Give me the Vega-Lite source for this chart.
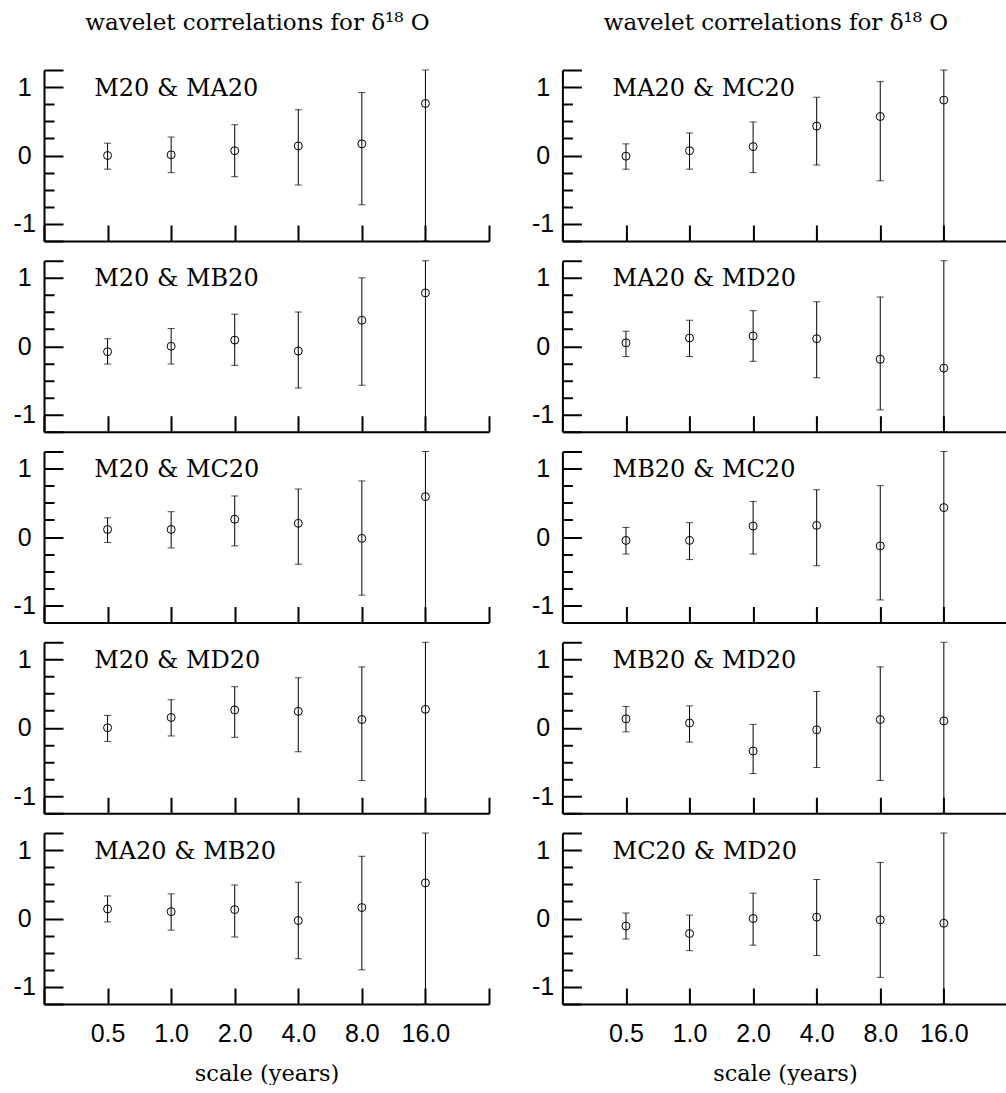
{
  "$schema": "https://vega.github.io/schema/vega-lite/v6.json",
  "padding": {"left": 13, "top": 12, "right": 0, "bottom": 0},
  "background": "white",
  "data": {"values": [
    {"pair": "M20 & MA20", "scale": 0.5, "r": 0.00, "lo": -0.20, "hi": 0.18},
    {"pair": "M20 & MA20", "scale": 1, "r": 0.01, "lo": -0.25, "hi": 0.27},
    {"pair": "M20 & MA20", "scale": 2, "r": 0.07, "lo": -0.31, "hi": 0.45},
    {"pair": "M20 & MA20", "scale": 4, "r": 0.14, "lo": -0.43, "hi": 0.67},
    {"pair": "M20 & MA20", "scale": 8, "r": 0.17, "lo": -0.72, "hi": 0.92},
    {"pair": "M20 & MA20", "scale": 16, "r": 0.76, "lo": -1.25, "hi": 1.25},
    {"pair": "MA20 & MC20", "scale": 0.5, "r": -0.01, "lo": -0.20, "hi": 0.17},
    {"pair": "MA20 & MC20", "scale": 1, "r": 0.07, "lo": -0.20, "hi": 0.33},
    {"pair": "MA20 & MC20", "scale": 2, "r": 0.13, "lo": -0.25, "hi": 0.49},
    {"pair": "MA20 & MC20", "scale": 4, "r": 0.43, "lo": -0.14, "hi": 0.85},
    {"pair": "MA20 & MC20", "scale": 8, "r": 0.57, "lo": -0.37, "hi": 1.08},
    {"pair": "MA20 & MC20", "scale": 16, "r": 0.81, "lo": -1.25, "hi": 1.25},
    {"pair": "M20 & MB20", "scale": 0.5, "r": -0.08, "lo": -0.26, "hi": 0.11},
    {"pair": "M20 & MB20", "scale": 1, "r": 0.00, "lo": -0.26, "hi": 0.26},
    {"pair": "M20 & MB20", "scale": 2, "r": 0.09, "lo": -0.28, "hi": 0.47},
    {"pair": "M20 & MB20", "scale": 4, "r": -0.07, "lo": -0.61, "hi": 0.50},
    {"pair": "M20 & MB20", "scale": 8, "r": 0.38, "lo": -0.57, "hi": 1.00},
    {"pair": "M20 & MB20", "scale": 16, "r": 0.78, "lo": -1.25, "hi": 1.25},
    {"pair": "MA20 & MD20", "scale": 0.5, "r": 0.05, "lo": -0.15, "hi": 0.22},
    {"pair": "MA20 & MD20", "scale": 1, "r": 0.12, "lo": -0.15, "hi": 0.38},
    {"pair": "MA20 & MD20", "scale": 2, "r": 0.15, "lo": -0.22, "hi": 0.52},
    {"pair": "MA20 & MD20", "scale": 4, "r": 0.11, "lo": -0.46, "hi": 0.65},
    {"pair": "MA20 & MD20", "scale": 8, "r": -0.19, "lo": -0.93, "hi": 0.72},
    {"pair": "MA20 & MD20", "scale": 16, "r": -0.32, "lo": -1.25, "hi": 1.25},
    {"pair": "M20 & MC20", "scale": 0.5, "r": 0.11, "lo": -0.08, "hi": 0.28},
    {"pair": "M20 & MC20", "scale": 1, "r": 0.11, "lo": -0.16, "hi": 0.37},
    {"pair": "M20 & MC20", "scale": 2, "r": 0.26, "lo": -0.13, "hi": 0.60},
    {"pair": "M20 & MC20", "scale": 4, "r": 0.20, "lo": -0.40, "hi": 0.70},
    {"pair": "M20 & MC20", "scale": 8, "r": -0.02, "lo": -0.85, "hi": 0.82},
    {"pair": "M20 & MC20", "scale": 16, "r": 0.59, "lo": -1.25, "hi": 1.25},
    {"pair": "MB20 & MC20", "scale": 0.5, "r": -0.05, "lo": -0.25, "hi": 0.14},
    {"pair": "MB20 & MC20", "scale": 1, "r": -0.05, "lo": -0.33, "hi": 0.21},
    {"pair": "MB20 & MC20", "scale": 2, "r": 0.16, "lo": -0.25, "hi": 0.52},
    {"pair": "MB20 & MC20", "scale": 4, "r": 0.17, "lo": -0.42, "hi": 0.69},
    {"pair": "MB20 & MC20", "scale": 8, "r": -0.13, "lo": -0.92, "hi": 0.75},
    {"pair": "MB20 & MC20", "scale": 16, "r": 0.43, "lo": -1.25, "hi": 1.25},
    {"pair": "M20 & MD20", "scale": 0.5, "r": 0.00, "lo": -0.20, "hi": 0.18},
    {"pair": "M20 & MD20", "scale": 1, "r": 0.15, "lo": -0.12, "hi": 0.41},
    {"pair": "M20 & MD20", "scale": 2, "r": 0.26, "lo": -0.14, "hi": 0.60},
    {"pair": "M20 & MD20", "scale": 4, "r": 0.24, "lo": -0.35, "hi": 0.73},
    {"pair": "M20 & MD20", "scale": 8, "r": 0.12, "lo": -0.77, "hi": 0.89},
    {"pair": "M20 & MD20", "scale": 16, "r": 0.27, "lo": -1.25, "hi": 1.25},
    {"pair": "MB20 & MD20", "scale": 0.5, "r": 0.13, "lo": -0.06, "hi": 0.31},
    {"pair": "MB20 & MD20", "scale": 1, "r": 0.07, "lo": -0.21, "hi": 0.32},
    {"pair": "MB20 & MD20", "scale": 2, "r": -0.34, "lo": -0.67, "hi": 0.05},
    {"pair": "MB20 & MD20", "scale": 4, "r": -0.03, "lo": -0.58, "hi": 0.53},
    {"pair": "MB20 & MD20", "scale": 8, "r": 0.12, "lo": -0.77, "hi": 0.89},
    {"pair": "MB20 & MD20", "scale": 16, "r": 0.10, "lo": -1.25, "hi": 1.25},
    {"pair": "MA20 & MB20", "scale": 0.5, "r": 0.14, "lo": -0.05, "hi": 0.33},
    {"pair": "MA20 & MB20", "scale": 1, "r": 0.10, "lo": -0.17, "hi": 0.36},
    {"pair": "MA20 & MB20", "scale": 2, "r": 0.13, "lo": -0.27, "hi": 0.49},
    {"pair": "MA20 & MB20", "scale": 4, "r": -0.03, "lo": -0.59, "hi": 0.53},
    {"pair": "MA20 & MB20", "scale": 8, "r": 0.16, "lo": -0.75, "hi": 0.91},
    {"pair": "MA20 & MB20", "scale": 16, "r": 0.52, "lo": -1.25, "hi": 1.25},
    {"pair": "MC20 & MD20", "scale": 0.5, "r": -0.11, "lo": -0.30, "hi": 0.08},
    {"pair": "MC20 & MD20", "scale": 1, "r": -0.22, "lo": -0.47, "hi": 0.05},
    {"pair": "MC20 & MD20", "scale": 2, "r": 0.00, "lo": -0.39, "hi": 0.37},
    {"pair": "MC20 & MD20", "scale": 4, "r": 0.02, "lo": -0.54, "hi": 0.57},
    {"pair": "MC20 & MD20", "scale": 8, "r": -0.02, "lo": -0.86, "hi": 0.82},
    {"pair": "MC20 & MD20", "scale": 16, "r": -0.07, "lo": -1.25, "hi": 1.25}
  ]},
  "columns": 2,
  "bounds": "flush",
  "spacing": {"row": 19.75, "column": 73.4},
  "concat": [
    {
      "title": {"text": "wavelet correlations for δ¹⁸ O"},
      "width": 445, "height": 171,
      "transform": [{"filter": "datum.pair == 'M20 & MA20'"}],
      "layer": [
        {"mark": {"type": "errorbar", "color": "black", "thickness": 1, "ticks": {"size": 7}},
         "encoding": {
           "x": {"field": "scale", "type": "quantitative", "scale": {"type": "log", "base": 2, "domain": [0.25, 32], "nice": false}, "axis": {"values": [0.25, 0.5, 1, 2, 4, 8, 16, 32], "tickSize": -16, "labels": false, "title": null}},
           "y": {"field": "lo", "type": "quantitative", "scale": {"domain": [-1.25, 1.25], "nice": false, "zero": false}, "axis": {"orient": "left", "values": [-1, 0, 1], "tickSize": -19, "labelExpr": "datum.value == 0 ? '0' : datum.value > 0 ? '1' : '-1'", "title": null}},
           "y2": {"field": "hi"}}},
        {"mark": {"type": "point", "shape": "circle", "filled": false, "size": 64, "color": "black", "strokeWidth": 1, "opacity": 1},
         "encoding": {
           "x": {"field": "scale", "type": "quantitative"},
           "y": {"field": "r", "type": "quantitative", "axis": {"orient": "left", "values": [-0.75, -0.5, -0.25, 0.25, 0.5, 0.75], "tickSize": -10, "labels": false, "domain": false, "title": null}}}},
        {"transform": [{"filter": "datum.scale == 0.5"}],
         "mark": {"type": "text", "font": "DejaVu Serif", "fontSize": 24, "align": "left", "baseline": "alphabetic", "color": "black"},
         "encoding": {
           "x": {"datum": 0.432, "type": "quantitative"},
           "y": {"datum": 0.874, "type": "quantitative", "axis": {"orient": "left", "values": [-1.25, 1.25], "tickSize": -19, "labels": false, "domain": false, "title": null}},
           "text": {"field": "pair"}}}
      ],
      "resolve": {"axis": {"y": "independent"}}
    },
    {
      "title": {"text": "wavelet correlations for δ¹⁸ O"},
      "width": 445, "height": 171,
      "transform": [{"filter": "datum.pair == 'MA20 & MC20'"}],
      "layer": [
        {"mark": {"type": "errorbar", "color": "black", "thickness": 1, "ticks": {"size": 7}},
         "encoding": {
           "x": {"field": "scale", "type": "quantitative", "scale": {"type": "log", "base": 2, "domain": [0.25, 32], "nice": false}, "axis": {"values": [0.25, 0.5, 1, 2, 4, 8, 16, 32], "tickSize": -16, "labels": false, "title": null}},
           "y": {"field": "lo", "type": "quantitative", "scale": {"domain": [-1.25, 1.25], "nice": false, "zero": false}, "axis": {"orient": "left", "values": [-1, 0, 1], "tickSize": -19, "labelExpr": "datum.value == 0 ? '0' : datum.value > 0 ? '1' : '-1'", "title": null}},
           "y2": {"field": "hi"}}},
        {"mark": {"type": "point", "shape": "circle", "filled": false, "size": 64, "color": "black", "strokeWidth": 1, "opacity": 1},
         "encoding": {
           "x": {"field": "scale", "type": "quantitative"},
           "y": {"field": "r", "type": "quantitative", "axis": {"orient": "left", "values": [-0.75, -0.5, -0.25, 0.25, 0.5, 0.75], "tickSize": -10, "labels": false, "domain": false, "title": null}}}},
        {"transform": [{"filter": "datum.scale == 0.5"}],
         "mark": {"type": "text", "font": "DejaVu Serif", "fontSize": 24, "align": "left", "baseline": "alphabetic", "color": "black"},
         "encoding": {
           "x": {"datum": 0.432, "type": "quantitative"},
           "y": {"datum": 0.874, "type": "quantitative", "axis": {"orient": "left", "values": [-1.25, 1.25], "tickSize": -19, "labels": false, "domain": false, "title": null}},
           "text": {"field": "pair"}}}
      ],
      "resolve": {"axis": {"y": "independent"}}
    },
    {
      "width": 445, "height": 171,
      "transform": [{"filter": "datum.pair == 'M20 & MB20'"}],
      "layer": [
        {"mark": {"type": "errorbar", "color": "black", "thickness": 1, "ticks": {"size": 7}},
         "encoding": {
           "x": {"field": "scale", "type": "quantitative", "scale": {"type": "log", "base": 2, "domain": [0.25, 32], "nice": false}, "axis": {"values": [0.25, 0.5, 1, 2, 4, 8, 16, 32], "tickSize": -16, "labels": false, "title": null}},
           "y": {"field": "lo", "type": "quantitative", "scale": {"domain": [-1.25, 1.25], "nice": false, "zero": false}, "axis": {"orient": "left", "values": [-1, 0, 1], "tickSize": -19, "labelExpr": "datum.value == 0 ? '0' : datum.value > 0 ? '1' : '-1'", "title": null}},
           "y2": {"field": "hi"}}},
        {"mark": {"type": "point", "shape": "circle", "filled": false, "size": 64, "color": "black", "strokeWidth": 1, "opacity": 1},
         "encoding": {
           "x": {"field": "scale", "type": "quantitative"},
           "y": {"field": "r", "type": "quantitative", "axis": {"orient": "left", "values": [-0.75, -0.5, -0.25, 0.25, 0.5, 0.75], "tickSize": -10, "labels": false, "domain": false, "title": null}}}},
        {"transform": [{"filter": "datum.scale == 0.5"}],
         "mark": {"type": "text", "font": "DejaVu Serif", "fontSize": 24, "align": "left", "baseline": "alphabetic", "color": "black"},
         "encoding": {
           "x": {"datum": 0.432, "type": "quantitative"},
           "y": {"datum": 0.874, "type": "quantitative", "axis": {"orient": "left", "values": [-1.25, 1.25], "tickSize": -19, "labels": false, "domain": false, "title": null}},
           "text": {"field": "pair"}}}
      ],
      "resolve": {"axis": {"y": "independent"}}
    },
    {
      "width": 445, "height": 171,
      "transform": [{"filter": "datum.pair == 'MA20 & MD20'"}],
      "layer": [
        {"mark": {"type": "errorbar", "color": "black", "thickness": 1, "ticks": {"size": 7}},
         "encoding": {
           "x": {"field": "scale", "type": "quantitative", "scale": {"type": "log", "base": 2, "domain": [0.25, 32], "nice": false}, "axis": {"values": [0.25, 0.5, 1, 2, 4, 8, 16, 32], "tickSize": -16, "labels": false, "title": null}},
           "y": {"field": "lo", "type": "quantitative", "scale": {"domain": [-1.25, 1.25], "nice": false, "zero": false}, "axis": {"orient": "left", "values": [-1, 0, 1], "tickSize": -19, "labelExpr": "datum.value == 0 ? '0' : datum.value > 0 ? '1' : '-1'", "title": null}},
           "y2": {"field": "hi"}}},
        {"mark": {"type": "point", "shape": "circle", "filled": false, "size": 64, "color": "black", "strokeWidth": 1, "opacity": 1},
         "encoding": {
           "x": {"field": "scale", "type": "quantitative"},
           "y": {"field": "r", "type": "quantitative", "axis": {"orient": "left", "values": [-0.75, -0.5, -0.25, 0.25, 0.5, 0.75], "tickSize": -10, "labels": false, "domain": false, "title": null}}}},
        {"transform": [{"filter": "datum.scale == 0.5"}],
         "mark": {"type": "text", "font": "DejaVu Serif", "fontSize": 24, "align": "left", "baseline": "alphabetic", "color": "black"},
         "encoding": {
           "x": {"datum": 0.432, "type": "quantitative"},
           "y": {"datum": 0.874, "type": "quantitative", "axis": {"orient": "left", "values": [-1.25, 1.25], "tickSize": -19, "labels": false, "domain": false, "title": null}},
           "text": {"field": "pair"}}}
      ],
      "resolve": {"axis": {"y": "independent"}}
    },
    {
      "width": 445, "height": 171,
      "transform": [{"filter": "datum.pair == 'M20 & MC20'"}],
      "layer": [
        {"mark": {"type": "errorbar", "color": "black", "thickness": 1, "ticks": {"size": 7}},
         "encoding": {
           "x": {"field": "scale", "type": "quantitative", "scale": {"type": "log", "base": 2, "domain": [0.25, 32], "nice": false}, "axis": {"values": [0.25, 0.5, 1, 2, 4, 8, 16, 32], "tickSize": -16, "labels": false, "title": null}},
           "y": {"field": "lo", "type": "quantitative", "scale": {"domain": [-1.25, 1.25], "nice": false, "zero": false}, "axis": {"orient": "left", "values": [-1, 0, 1], "tickSize": -19, "labelExpr": "datum.value == 0 ? '0' : datum.value > 0 ? '1' : '-1'", "title": null}},
           "y2": {"field": "hi"}}},
        {"mark": {"type": "point", "shape": "circle", "filled": false, "size": 64, "color": "black", "strokeWidth": 1, "opacity": 1},
         "encoding": {
           "x": {"field": "scale", "type": "quantitative"},
           "y": {"field": "r", "type": "quantitative", "axis": {"orient": "left", "values": [-0.75, -0.5, -0.25, 0.25, 0.5, 0.75], "tickSize": -10, "labels": false, "domain": false, "title": null}}}},
        {"transform": [{"filter": "datum.scale == 0.5"}],
         "mark": {"type": "text", "font": "DejaVu Serif", "fontSize": 24, "align": "left", "baseline": "alphabetic", "color": "black"},
         "encoding": {
           "x": {"datum": 0.432, "type": "quantitative"},
           "y": {"datum": 0.874, "type": "quantitative", "axis": {"orient": "left", "values": [-1.25, 1.25], "tickSize": -19, "labels": false, "domain": false, "title": null}},
           "text": {"field": "pair"}}}
      ],
      "resolve": {"axis": {"y": "independent"}}
    },
    {
      "width": 445, "height": 171,
      "transform": [{"filter": "datum.pair == 'MB20 & MC20'"}],
      "layer": [
        {"mark": {"type": "errorbar", "color": "black", "thickness": 1, "ticks": {"size": 7}},
         "encoding": {
           "x": {"field": "scale", "type": "quantitative", "scale": {"type": "log", "base": 2, "domain": [0.25, 32], "nice": false}, "axis": {"values": [0.25, 0.5, 1, 2, 4, 8, 16, 32], "tickSize": -16, "labels": false, "title": null}},
           "y": {"field": "lo", "type": "quantitative", "scale": {"domain": [-1.25, 1.25], "nice": false, "zero": false}, "axis": {"orient": "left", "values": [-1, 0, 1], "tickSize": -19, "labelExpr": "datum.value == 0 ? '0' : datum.value > 0 ? '1' : '-1'", "title": null}},
           "y2": {"field": "hi"}}},
        {"mark": {"type": "point", "shape": "circle", "filled": false, "size": 64, "color": "black", "strokeWidth": 1, "opacity": 1},
         "encoding": {
           "x": {"field": "scale", "type": "quantitative"},
           "y": {"field": "r", "type": "quantitative", "axis": {"orient": "left", "values": [-0.75, -0.5, -0.25, 0.25, 0.5, 0.75], "tickSize": -10, "labels": false, "domain": false, "title": null}}}},
        {"transform": [{"filter": "datum.scale == 0.5"}],
         "mark": {"type": "text", "font": "DejaVu Serif", "fontSize": 24, "align": "left", "baseline": "alphabetic", "color": "black"},
         "encoding": {
           "x": {"datum": 0.432, "type": "quantitative"},
           "y": {"datum": 0.874, "type": "quantitative", "axis": {"orient": "left", "values": [-1.25, 1.25], "tickSize": -19, "labels": false, "domain": false, "title": null}},
           "text": {"field": "pair"}}}
      ],
      "resolve": {"axis": {"y": "independent"}}
    },
    {
      "width": 445, "height": 171,
      "transform": [{"filter": "datum.pair == 'M20 & MD20'"}],
      "layer": [
        {"mark": {"type": "errorbar", "color": "black", "thickness": 1, "ticks": {"size": 7}},
         "encoding": {
           "x": {"field": "scale", "type": "quantitative", "scale": {"type": "log", "base": 2, "domain": [0.25, 32], "nice": false}, "axis": {"values": [0.25, 0.5, 1, 2, 4, 8, 16, 32], "tickSize": -16, "labels": false, "title": null}},
           "y": {"field": "lo", "type": "quantitative", "scale": {"domain": [-1.25, 1.25], "nice": false, "zero": false}, "axis": {"orient": "left", "values": [-1, 0, 1], "tickSize": -19, "labelExpr": "datum.value == 0 ? '0' : datum.value > 0 ? '1' : '-1'", "title": null}},
           "y2": {"field": "hi"}}},
        {"mark": {"type": "point", "shape": "circle", "filled": false, "size": 64, "color": "black", "strokeWidth": 1, "opacity": 1},
         "encoding": {
           "x": {"field": "scale", "type": "quantitative"},
           "y": {"field": "r", "type": "quantitative", "axis": {"orient": "left", "values": [-0.75, -0.5, -0.25, 0.25, 0.5, 0.75], "tickSize": -10, "labels": false, "domain": false, "title": null}}}},
        {"transform": [{"filter": "datum.scale == 0.5"}],
         "mark": {"type": "text", "font": "DejaVu Serif", "fontSize": 24, "align": "left", "baseline": "alphabetic", "color": "black"},
         "encoding": {
           "x": {"datum": 0.432, "type": "quantitative"},
           "y": {"datum": 0.874, "type": "quantitative", "axis": {"orient": "left", "values": [-1.25, 1.25], "tickSize": -19, "labels": false, "domain": false, "title": null}},
           "text": {"field": "pair"}}}
      ],
      "resolve": {"axis": {"y": "independent"}}
    },
    {
      "width": 445, "height": 171,
      "transform": [{"filter": "datum.pair == 'MB20 & MD20'"}],
      "layer": [
        {"mark": {"type": "errorbar", "color": "black", "thickness": 1, "ticks": {"size": 7}},
         "encoding": {
           "x": {"field": "scale", "type": "quantitative", "scale": {"type": "log", "base": 2, "domain": [0.25, 32], "nice": false}, "axis": {"values": [0.25, 0.5, 1, 2, 4, 8, 16, 32], "tickSize": -16, "labels": false, "title": null}},
           "y": {"field": "lo", "type": "quantitative", "scale": {"domain": [-1.25, 1.25], "nice": false, "zero": false}, "axis": {"orient": "left", "values": [-1, 0, 1], "tickSize": -19, "labelExpr": "datum.value == 0 ? '0' : datum.value > 0 ? '1' : '-1'", "title": null}},
           "y2": {"field": "hi"}}},
        {"mark": {"type": "point", "shape": "circle", "filled": false, "size": 64, "color": "black", "strokeWidth": 1, "opacity": 1},
         "encoding": {
           "x": {"field": "scale", "type": "quantitative"},
           "y": {"field": "r", "type": "quantitative", "axis": {"orient": "left", "values": [-0.75, -0.5, -0.25, 0.25, 0.5, 0.75], "tickSize": -10, "labels": false, "domain": false, "title": null}}}},
        {"transform": [{"filter": "datum.scale == 0.5"}],
         "mark": {"type": "text", "font": "DejaVu Serif", "fontSize": 24, "align": "left", "baseline": "alphabetic", "color": "black"},
         "encoding": {
           "x": {"datum": 0.432, "type": "quantitative"},
           "y": {"datum": 0.874, "type": "quantitative", "axis": {"orient": "left", "values": [-1.25, 1.25], "tickSize": -19, "labels": false, "domain": false, "title": null}},
           "text": {"field": "pair"}}}
      ],
      "resolve": {"axis": {"y": "independent"}}
    },
    {
      "width": 445, "height": 171,
      "transform": [{"filter": "datum.pair == 'MA20 & MB20'"}],
      "layer": [
        {"mark": {"type": "errorbar", "color": "black", "thickness": 1, "ticks": {"size": 7}},
         "encoding": {
           "x": {"field": "scale", "type": "quantitative", "scale": {"type": "log", "base": 2, "domain": [0.25, 32], "nice": false}, "axis": {"values": [0.25, 0.5, 1, 2, 4, 8, 16, 32], "tickSize": -16, "labels": true, "labelExpr": "datum.value < 0.3 || datum.value > 20 ? '' : format(datum.value, '.1f')", "title": "scale (years)"}},
           "y": {"field": "lo", "type": "quantitative", "scale": {"domain": [-1.25, 1.25], "nice": false, "zero": false}, "axis": {"orient": "left", "values": [-1, 0, 1], "tickSize": -19, "labelExpr": "datum.value == 0 ? '0' : datum.value > 0 ? '1' : '-1'", "title": null}},
           "y2": {"field": "hi"}}},
        {"mark": {"type": "point", "shape": "circle", "filled": false, "size": 64, "color": "black", "strokeWidth": 1, "opacity": 1},
         "encoding": {
           "x": {"field": "scale", "type": "quantitative"},
           "y": {"field": "r", "type": "quantitative", "axis": {"orient": "left", "values": [-0.75, -0.5, -0.25, 0.25, 0.5, 0.75], "tickSize": -10, "labels": false, "domain": false, "title": null}}}},
        {"transform": [{"filter": "datum.scale == 0.5"}],
         "mark": {"type": "text", "font": "DejaVu Serif", "fontSize": 24, "align": "left", "baseline": "alphabetic", "color": "black"},
         "encoding": {
           "x": {"datum": 0.432, "type": "quantitative"},
           "y": {"datum": 0.874, "type": "quantitative", "axis": {"orient": "left", "values": [-1.25, 1.25], "tickSize": -19, "labels": false, "domain": false, "title": null}},
           "text": {"field": "pair"}}}
      ],
      "resolve": {"axis": {"y": "independent"}}
    },
    {
      "width": 445, "height": 171,
      "transform": [{"filter": "datum.pair == 'MC20 & MD20'"}],
      "layer": [
        {"mark": {"type": "errorbar", "color": "black", "thickness": 1, "ticks": {"size": 7}},
         "encoding": {
           "x": {"field": "scale", "type": "quantitative", "scale": {"type": "log", "base": 2, "domain": [0.25, 32], "nice": false}, "axis": {"values": [0.25, 0.5, 1, 2, 4, 8, 16, 32], "tickSize": -16, "labels": true, "labelExpr": "datum.value < 0.3 || datum.value > 20 ? '' : format(datum.value, '.1f')", "title": "scale (years)"}},
           "y": {"field": "lo", "type": "quantitative", "scale": {"domain": [-1.25, 1.25], "nice": false, "zero": false}, "axis": {"orient": "left", "values": [-1, 0, 1], "tickSize": -19, "labelExpr": "datum.value == 0 ? '0' : datum.value > 0 ? '1' : '-1'", "title": null}},
           "y2": {"field": "hi"}}},
        {"mark": {"type": "point", "shape": "circle", "filled": false, "size": 64, "color": "black", "strokeWidth": 1, "opacity": 1},
         "encoding": {
           "x": {"field": "scale", "type": "quantitative"},
           "y": {"field": "r", "type": "quantitative", "axis": {"orient": "left", "values": [-0.75, -0.5, -0.25, 0.25, 0.5, 0.75], "tickSize": -10, "labels": false, "domain": false, "title": null}}}},
        {"transform": [{"filter": "datum.scale == 0.5"}],
         "mark": {"type": "text", "font": "DejaVu Serif", "fontSize": 24, "align": "left", "baseline": "alphabetic", "color": "black"},
         "encoding": {
           "x": {"datum": 0.432, "type": "quantitative"},
           "y": {"datum": 0.874, "type": "quantitative", "axis": {"orient": "left", "values": [-1.25, 1.25], "tickSize": -19, "labels": false, "domain": false, "title": null}},
           "text": {"field": "pair"}}}
      ],
      "resolve": {"axis": {"y": "independent"}}
    }
  ],
  "config": {
    "view": {"stroke": null},
    "axis": {"domainColor": "black", "domainWidth": 2, "tickColor": "black", "tickWidth": 2, "labelColor": "black", "labelFont": "Liberation Sans", "labelFontSize": 25, "grid": false, "labelFlush": false, "labelOverlap": false, "titleFont": "DejaVu Serif", "titleFontSize": 22.5, "titleFontWeight": "normal", "titleColor": "black"},
    "axisX": {"labelPadding": 33, "titlePadding": 16.3},
    "axisY": {"labelPadding": 38.8, "labelAlign": "center", "labelBaseline": "middle"},
    "title": {"font": "DejaVu Serif", "fontSize": 23, "fontWeight": "normal", "color": "black", "anchor": "middle", "baseline": "alphabetic", "offset": 34, "dx": -9}
  }
}
